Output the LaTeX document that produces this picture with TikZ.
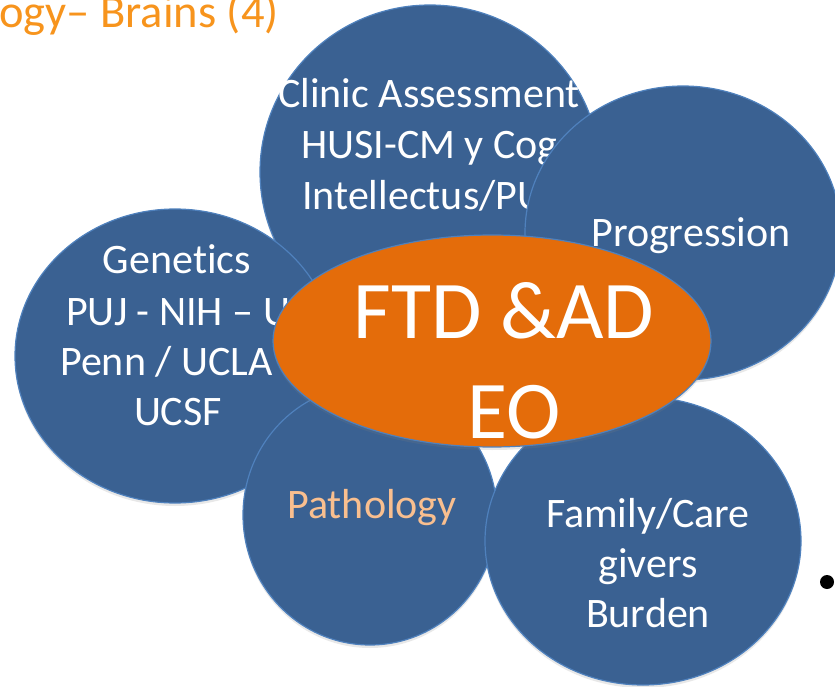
\documentclass[tikz,border=0pt]{standalone}
\usepackage{fontspec}
\setmainfont{Carlito}[Ligatures=NoCommon]
\usetikzlibrary{shapes.geometric, shadows}
\definecolor{petalblue}{HTML}{3A6192}
\definecolor{rimblue}{HTML}{4F81BD}
\definecolor{coreorange}{HTML}{E46C0A}
\definecolor{titleorange}{HTML}{F7941D}
\definecolor{peach}{HTML}{F9BF8F}
\tikzset{
  petal/.style={ellipse, draw=rimblue, line width=1.2pt, fill=petalblue, inner sep=0pt,
    drop shadow={opacity=0.18, shadow xshift=0pt, shadow yshift=-3pt}},
  petaltext/.style={text=white, inner sep=0pt, font=\fontsize{42}{50}\selectfont},
  coretext/.style={text=white, inner sep=0pt, font=\fontsize{82}{100}\selectfont},
}

\begin{document}
\begin{tikzpicture}[x=1pt, y=-1pt]
\useasboundingbox (0,0) rectangle (835,687);
\node[anchor=base west, inner sep=0pt, text=titleorange, font=\fontsize{46.5}{50}\selectfont] (title) at (-1,28) {ogy– Brains (4)};

\node[petal, minimum width=340pt, minimum height=334pt] (clinic) at (430,172) {};
\node[petaltext, anchor=base west] (clinicA) at (278,108) {Clinic Assessment};
\node[petaltext, anchor=base west] (clinicB) at (301,159) {HUSI-CM y Cog};
\node[petaltext, anchor=base west] (clinicC) at (302,210) {Intellectus/PU};

\node[petal, minimum width=320pt, minimum height=294pt] (genetics) at (175,356) {};
\node[petaltext, anchor=base] (geneticsA) at (177,273) {Genetics};
\node[petaltext, anchor=base west] (geneticsB) at (66,325) {PUJ - NIH – U};
\node[petaltext, anchor=base west] (geneticsC) at (60,375) {Penn / UCLA};
\node[petaltext, anchor=base] (geneticsD) at (178,425) {UCSF};

\node[petal, minimum width=316pt, minimum height=294pt] (progression) at (683,233) {};
\node[petaltext, anchor=base] (progressionA) at (691,247) {Progression};

\node[petal, minimum width=254pt, minimum height=260pt] (pathology) at (370,515) {};
\node[petaltext, anchor=base, text=peach] (pathologyA) at (372,518) {Pathology};

\node[petal, minimum width=316pt, minimum height=288pt] (family) at (643,541) {};
\node[petaltext, anchor=base] (familyA) at (648,527) {Family/Care};
\node[petaltext, anchor=base] (familyB) at (648,577) {givers};
\node[petaltext, anchor=base] (familyC) at (648,627) {Burden};

\node[petal, fill=coreorange, minimum width=438pt, minimum height=212pt] (core) at (492,341) {};
\node[coretext, anchor=base] (coreA) at (504,338) {FTD \&AD};
\node[coretext, anchor=base] (coreB) at (514,438) {EO};

\node[circle, fill=black, minimum size=14pt, inner sep=0pt] (dot) at (827,582) {};
\end{tikzpicture}
\end{document}
